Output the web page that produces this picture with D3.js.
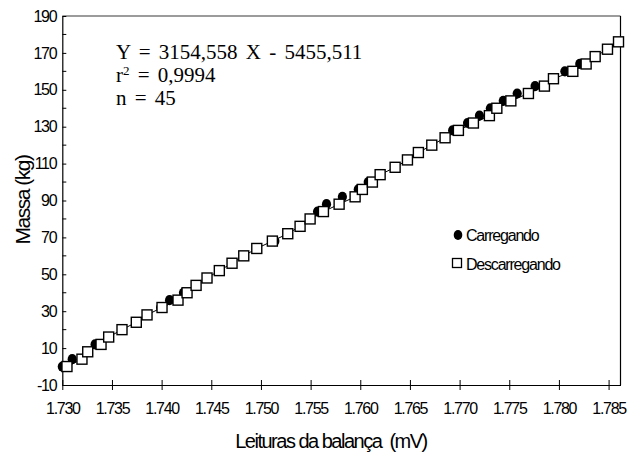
<!DOCTYPE html>
<html>
<head>
    <meta charset="utf-8">
    <style>
        body { margin: 0; background: #fff; }
        svg { display: block; }
        .tick-label { font-family: "Liberation Sans", Arial, sans-serif; font-size: 16px; letter-spacing: -1.3px; fill: #000; }
        .axis-title { font-family: "Liberation Sans", Arial, sans-serif; font-size: 20px; letter-spacing: -1.5px; fill: #000; white-space: pre; }
        .legend-text { font-family: "Liberation Sans", Arial, sans-serif; font-size: 16px; letter-spacing: -1.2px; fill: #000; }
        .eq { font-family: "Liberation Serif", "Times New Roman", serif; font-size: 21px; word-spacing: 3px; fill: #000; }
    </style>
</head>
<body>
<svg width="627" height="452"></svg>

<script src="https://d3js.org/d3.v7.min.js"></script>
<script>
    // readings (mV) and masses (kg)
    let descarregandoX = [1.73047, 1.73198, 1.73256, 1.73390, 1.73467, 1.73601, 1.73745, 1.73853, 1.74004,
        1.74165, 1.74256, 1.74347, 1.74457, 1.74581, 1.74709, 1.74827, 1.74958, 1.75115, 1.75270,
        1.75394, 1.75495, 1.75629, 1.75787, 1.75948, 1.76021, 1.76122, 1.76200, 1.76351, 1.76475,
        1.76585, 1.76720, 1.76854, 1.76988, 1.77139, 1.77300, 1.77375, 1.77516, 1.77693, 1.77854,
        1.77945, 1.78140, 1.78274, 1.78365, 1.78489, 1.78600]
    let descarregandoY = [0, 4, 8, 12, 16, 20, 24, 28, 32, 36, 40, 44, 48, 52, 56, 60, 64, 68, 72, 76,
        80, 84, 88, 92, 96, 100, 104, 108, 112, 116, 120, 124, 128, 132, 136, 140, 144, 148, 152,
        156, 160, 164, 168, 172, 176]

    let carregandoX = [1.7300, 1.7310, 1.7333, 1.7399, 1.7408, 1.7422, 1.7459, 1.7514, 1.7557, 1.7566,
        1.7582, 1.7598, 1.7608, 1.7693, 1.7708, 1.7720, 1.7731, 1.7744, 1.7758, 1.7776, 1.7806, 1.7821]
    let carregandoY = [0, 4, 12, 32, 36, 40, 52, 68, 84, 88, 92, 96, 100, 128, 132, 136, 140, 144, 148,
        152, 160, 164]

    let xTicks = [1.730, 1.735, 1.740, 1.745, 1.750, 1.755, 1.760, 1.765, 1.770, 1.775, 1.780, 1.785]
    let yTicks = [-10, 10, 30, 50, 70, 90, 110, 130, 150, 170, 190]
    let yMinorTicks = [0, 20, 40, 60, 80, 100, 120, 140, 160, 180]

    let svg = d3.select("svg")

    let x = d3.scaleLinear().domain([1.730, 1.7862]).range([62.3, 620.5])
    let y = d3.scaleLinear().domain([-10, 190]).range([385, 16])

    // frame: top gray, right black
    svg.append("line")
        .attr("x1", x.range()[0]).attr("x2", x.range()[1])
        .attr("y1", y.range()[1]).attr("y2", y.range()[1])
        .style("stroke", "#7a7a7a").style("stroke-width", 1.5)
    svg.append("line")
        .attr("x1", x.range()[1]).attr("x2", x.range()[1])
        .attr("y1", y.range()[1]).attr("y2", y.range()[0])
        .style("stroke", "#000").style("stroke-width", 1.2)

    // x axis
    let xAxis = svg.append("g")
        .attr("transform", "translate(0," + y.range()[0] + ")")
        .call(d3.axisBottom(x).tickValues(xTicks).tickSize(5).tickSizeOuter(0).tickFormat(d3.format(".3f")))
    xAxis.select(".domain").style("stroke", "#000").style("stroke-width", 1.2)
    xAxis.selectAll(".tick line").attr("y1", -5).style("stroke", "#000")
    xAxis.selectAll(".tick text").attr("class", "tick-label").attr("y", 18).attr("dy", "0.71em")
    xAxis.attr("font-size", null).attr("font-family", null)

    // y axis (plain hyphen for negatives)
    let yAxis = svg.append("g")
        .attr("transform", "translate(" + x.range()[0] + ",0)")
        .call(d3.axisLeft(y).tickValues(yTicks).tickSize(-4).tickSizeOuter(0).tickFormat(d => String(d)))
    yAxis.select(".domain").style("stroke", "#000").style("stroke-width", 1.2)
    yAxis.selectAll(".tick line").style("stroke", "#000")
    yAxis.selectAll(".tick text").attr("class", "tick-label").attr("x", -6)
    yAxis.attr("font-size", null).attr("font-family", null)

    svg.append("g")
        .selectAll("line")
        .data(yMinorTicks)
        .join("line")
        .attr("x1", x.range()[0]).attr("x2", x.range()[0] + 4)
        .attr("y1", d => y(d)).attr("y2", d => y(d))
        .style("stroke", "#000")

    // line through the points
    let pts = descarregandoX.map((v, i) => [v, descarregandoY[i]])
    svg.append("path")
        .datum(pts)
        .attr("d", d3.line().x(d => x(d[0])).y(d => y(d[1])))
        .style("fill", "none").style("stroke", "#000").style("stroke-width", 1)

    // carregando: filled circles
    svg.append("g")
        .selectAll("ellipse")
        .data(carregandoX.map((v, i) => [v, carregandoY[i]]))
        .join("ellipse")
        .attr("cx", d => x(d[0]))
        .attr("cy", d => y(d[1]))
        .attr("rx", 4.6).attr("ry", 5.1)
        .style("fill", "#000")

    // descarregando: open squares
    svg.append("g")
        .selectAll("rect")
        .data(pts)
        .join("rect")
        .attr("x", d => x(d[0]) - 5)
        .attr("y", d => y(d[1]) - 5)
        .attr("width", 10).attr("height", 10)
        .style("fill", "#fff").style("stroke", "#000").style("stroke-width", 1.4)

    // equation
    let eq = svg.append("g")
    eq.append("text").attr("class", "eq").attr("x", 116).attr("y", 59).text("Y = 3154,558 X - 5455,511")
    let r2 = eq.append("text").attr("class", "eq").attr("x", 116).attr("y", 82)
    r2.append("tspan").text("r")
    r2.append("tspan").attr("dy", -7).style("font-size", "13px").text("2")
    r2.append("tspan").attr("dy", 7).text(" = 0,9994")
    eq.append("text").attr("class", "eq").attr("x", 116).attr("y", 105).text("n = 45")

    // legend
    svg.append("ellipse").attr("cx", 458).attr("cy", 235).attr("rx", 4.3).attr("ry", 5).style("fill", "#000")
    svg.append("text").attr("class", "legend-text").attr("x", 466).attr("y", 241).text("Carregando")
    svg.append("rect").attr("x", 452.5).attr("y", 258.5).attr("width", 9).attr("height", 9)
        .style("fill", "#fff").style("stroke", "#000").style("stroke-width", 1.3)
    svg.append("text").attr("class", "legend-text").attr("x", 466).attr("y", 270).text("Descarregando")

    // axis titles
    svg.append("text").attr("class", "axis-title")
        .attr("x", 331).attr("y", 448).attr("text-anchor", "middle")
        .text("Leituras da balança  (mV)")
    svg.append("text").attr("class", "axis-title")
        .attr("transform", "translate(30,200) rotate(-90)")
        .attr("text-anchor", "middle")
        .style("font-size", "21px")
        .text("Massa (kg)")
</script>
</body>
</html>
